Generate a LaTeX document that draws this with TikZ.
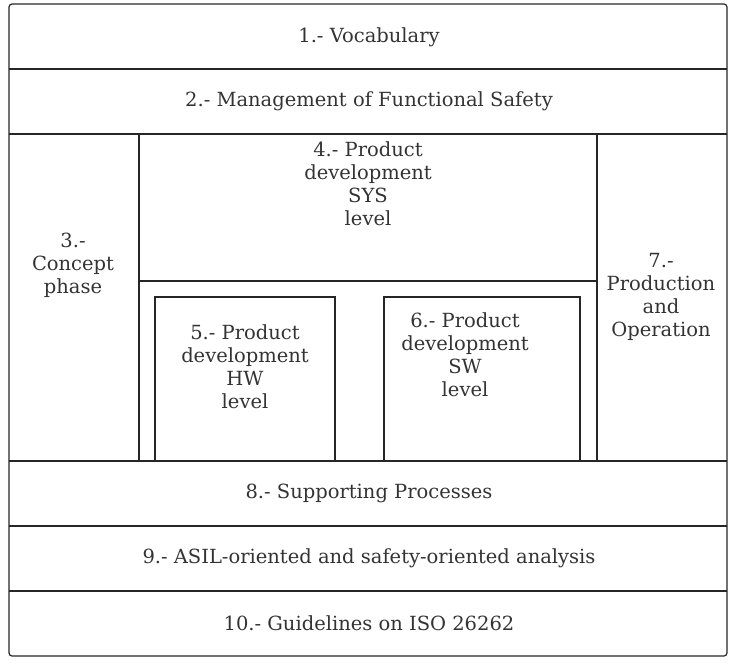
\documentclass[tikz,border=0pt]{standalone}
\usepackage{fontspec}
\setmainfont{DejaVu Serif}
\begin{document}
\begin{tikzpicture}[x=1pt,y=-1pt,
  frame/.style={draw=black!85,line width=1.2pt},
  lbl/.style={align=center,inner sep=0pt,font=\fontsize{19.5}{23}\selectfont,text=black!80}]
\useasboundingbox (0,0) rectangle (737,666);
% outer frame
\draw[frame,rounded corners=3pt] (9,4) rectangle (727,656);
% horizontal bands
\draw[frame] (9,69) -- (727,69);
\draw[frame] (9,134) -- (727,134);
\draw[frame] (9,461) -- (727,461);
\draw[frame] (9,526) -- (727,526);
\draw[frame] (9,591) -- (727,591);
% vertical columns
\draw[frame] (139,134) -- (139,461);
\draw[frame] (597,134) -- (597,461);
\draw[frame] (139,281) -- (597,281);
% inner boxes
\draw[frame] (155,461) |- (335,297) -- (335,461);
\draw[frame] (384,461) |- (580,297) -- (580,461);
% labels
\node[lbl] (t1) at (369,37) {1.- Vocabulary};
\node[lbl] (t2) at (369,101) {2.- Management of Functional Safety};
\node[lbl] (t3) at (73,265) {3.-\\Concept\\phase};
\node[lbl] (t4) at (368,184) {4.- Product\\development\\SYS\\level};
\node[lbl] (t5) at (245,367) {5.- Product\\development\\HW\\level};
\node[lbl] (t6) at (465,355) {6.- Product\\development\\SW\\level};
\node[lbl] (t7) at (661,297) {7.-\\Production\\and\\Operation};
\node[lbl] (t8) at (369,493) {8.- Supporting Processes};
\node[lbl] (t9) at (369,558) {9.- ASIL-oriented and safety-oriented analysis};
\node[lbl] (t10) at (369,623) {10.- Guidelines on ISO 26262};
\end{tikzpicture}
\end{document}
